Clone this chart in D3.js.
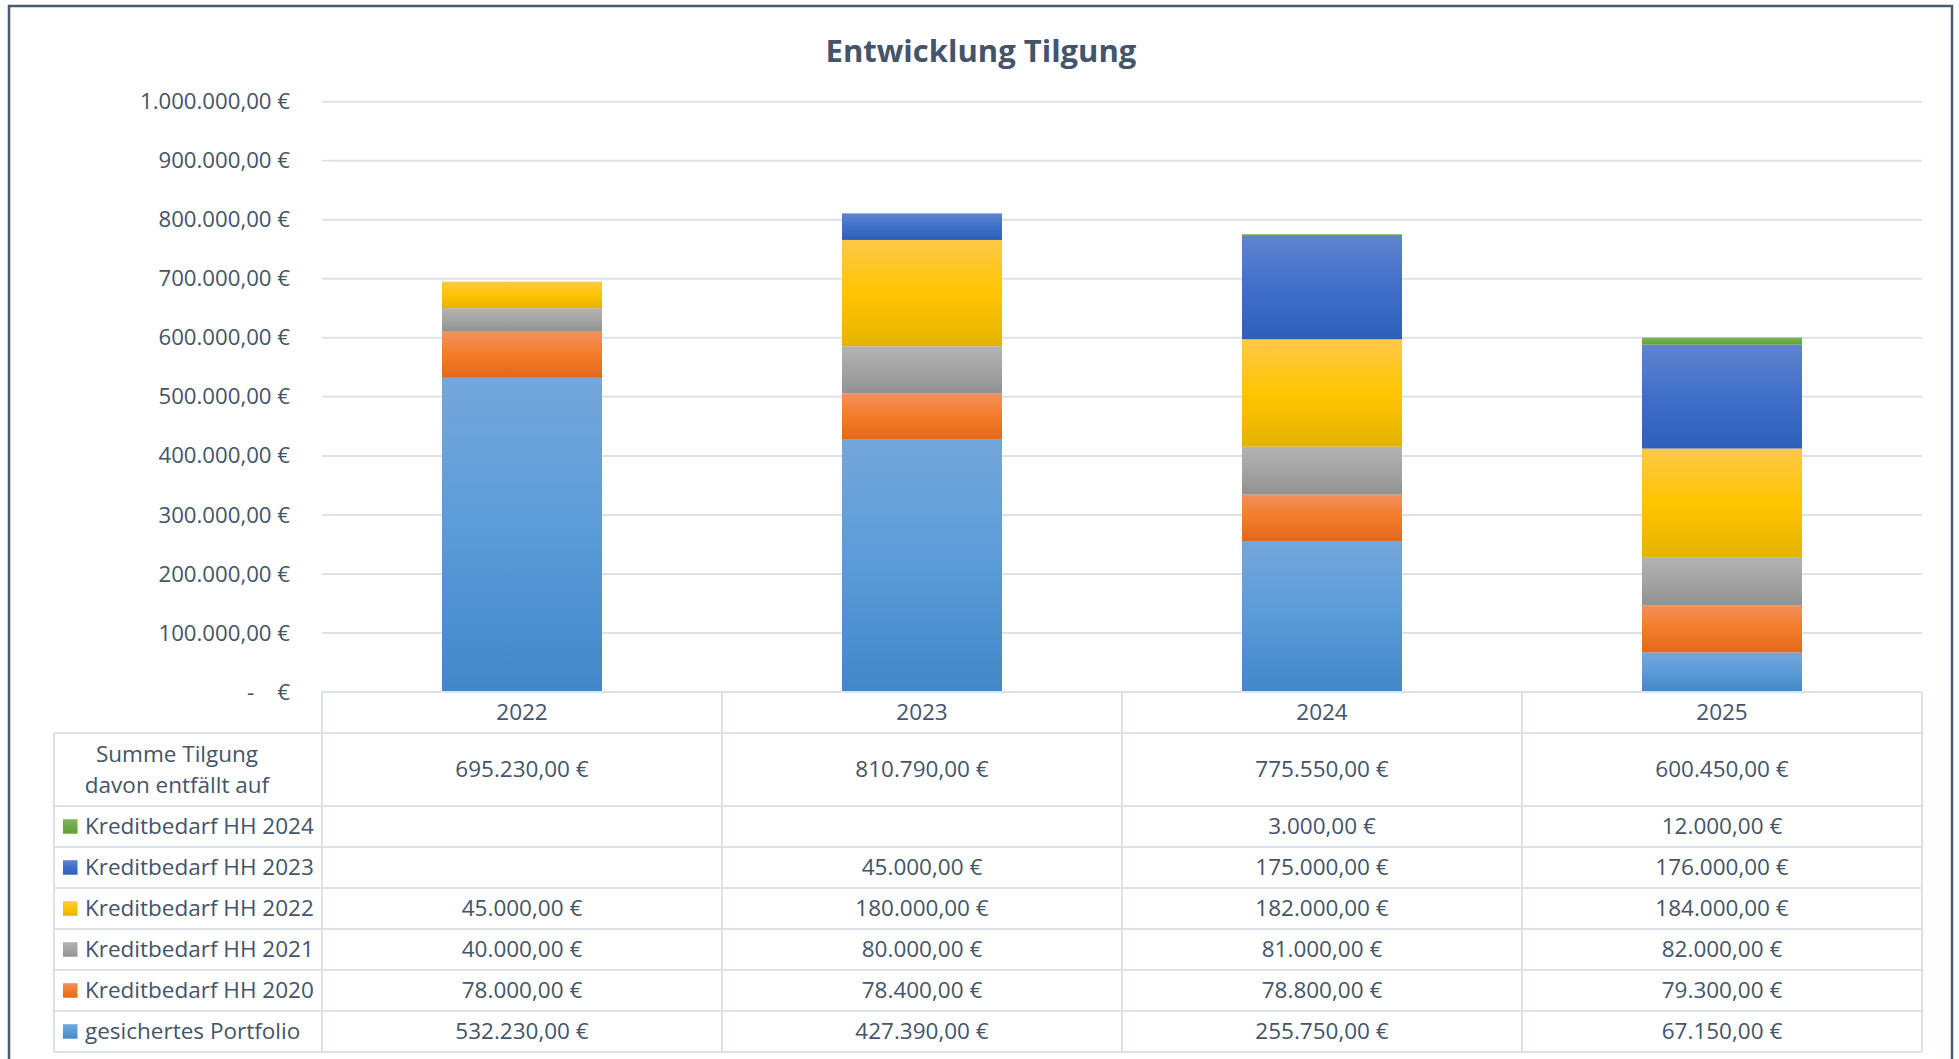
<!DOCTYPE html>
<html>
<head>
<meta charset="utf-8">
<script src="https://cdn.jsdelivr.net/npm/d3@7"></script>
<style>
  html, body { margin: 0; padding: 0; background: #ffffff; }
  svg text { font-family: "Open Sans", "Noto Sans", sans-serif; fill: #44546A; white-space: pre; }
</style>
</head>
<body>
<div id="chart"></div>
<script>
// ---- data ----------------------------------------------------------------
const years = ["2022", "2023", "2024", "2025"];

// stacked bottom -> top
const seriesKeys = ["portfolio", "hh2020", "hh2021", "hh2022", "hh2023", "hh2024"];
const seriesLabels = {
  portfolio: "gesichertes Portfolio",
  hh2020: "Kreditbedarf HH 2020",
  hh2021: "Kreditbedarf HH 2021",
  hh2022: "Kreditbedarf HH 2022",
  hh2023: "Kreditbedarf HH 2023",
  hh2024: "Kreditbedarf HH 2024",
};

const portfolio = [532230, 427390, 255750, 67150];
const hh2020 = [78000, 78400, 78800, 79300];
const hh2021 = [40000, 80000, 81000, 82000];
const hh2022 = [45000, 180000, 182000, 184000];
const hh2023 = [null, 45000, 175000, 176000];
const hh2024 = [null, null, 3000, 12000];

const yTicks = [0, 100000, 200000, 300000, 400000, 500000, 600000, 700000, 800000, 900000, 1000000];

// gradient stops per series: top, middle, bottom
const seriesColors = {
  portfolio: ["#73A7DB", "#5A9BD9", "#4287C7"],
  hh2020: ["#F1905C", "#F47B28", "#E3681A"],
  hh2021: ["#B3B3B3", "#A4A4A4", "#919191"],
  hh2022: ["#FFC848", "#FFC500", "#E4B300"],
  hh2023: ["#6084CE", "#3F6FCA", "#2D60B8"],
  hh2024: ["#7DB85A", "#6DAA45", "#60A036"],
};

const seriesValues = { portfolio, hh2020, hh2021, hh2022, hh2023, hh2024 };
const rows = years.map((year, i) => {
  const r = { year };
  seriesKeys.forEach((k) => (r[k] = seriesValues[k][i] || 0));
  return r;
});

// ---- layout --------------------------------------------------------------
const width = 1959;
const height = 1059;
const plotLeft = 322;
const plotRight = 1922;
const plotTop = 101.7;
const plotBottom = 692;
const tableLeft = 54;
const headerH = 41;
const sumH = 73;
const rowH = 41;
const tableFont = "22.5px";

const deLocale = d3.formatLocale({ decimal: ",", thousands: ".", grouping: [3], currency: ["", " €"] });
const fmtMoney = deLocale.format(",.2f");
const euro = (v) => fmtMoney(v) + " €";
const axisLabel = (v) => (v === 0 ? "-    €" : euro(v));

const svg = d3
  .select("#chart")
  .append("svg")
  .attr("width", width)
  .attr("height", height)
  .attr("xml:space", "preserve");

// gradients
const defs = svg.append("defs");
seriesKeys.forEach((k) => {
  const g = defs.append("linearGradient").attr("id", `grad-${k}`).attr("x1", 0).attr("y1", 0).attr("x2", 0).attr("y2", 1);
  g.append("stop").attr("offset", "0%").attr("stop-color", seriesColors[k][0]);
  g.append("stop").attr("offset", "50%").attr("stop-color", seriesColors[k][1]);
  g.append("stop").attr("offset", "100%").attr("stop-color", seriesColors[k][2]);
});

// frame
svg
  .append("rect")
  .attr("x", 9)
  .attr("y", 6)
  .attr("width", 1943)
  .attr("height", 1200)
  .attr("fill", "#ffffff")
  .attr("stroke", "#4A5A72")
  .attr("stroke-width", 2.5);

// title
svg
  .append("text")
  .attr("x", 981)
  .attr("y", 51)
  .attr("dy", "0.35em")
  .attr("text-anchor", "middle")
  .style("font-size", "31px")
  .style("font-weight", "700")
  .text("Entwicklung Tilgung");

// scales
const x = d3.scaleBand().domain(years).range([plotLeft, plotRight]).padding(0);
const y = d3.scaleLinear().domain([0, 1000000]).range([plotBottom, plotTop]);
const barW = x.bandwidth() * 0.4;

// gridlines
svg
  .append("g")
  .selectAll("line")
  .data(yTicks.filter((t) => t > 0))
  .enter()
  .append("line")
  .attr("x1", plotLeft)
  .attr("x2", plotRight)
  .attr("y1", (d) => y(d))
  .attr("y2", (d) => y(d))
  .attr("stroke", "#DEE2E8")
  .attr("stroke-width", 2);

// y axis labels
const yAxis = svg
  .append("g")
  .attr("transform", `translate(290,0)`)
  .call(d3.axisLeft(y).tickValues(yTicks).tickFormat(axisLabel).tickSize(0).tickPadding(0));
yAxis.select(".domain").remove();
yAxis
  .selectAll("text")
  .attr("fill", "#44546A")
  .style("font-size", "22.2px")
  .style("font-family", '"Open Sans", "Noto Sans", sans-serif');

// bars
const stack = d3.stack().keys(seriesKeys);
const stacked = stack(rows);
svg
  .append("g")
  .selectAll("g")
  .data(stacked)
  .enter()
  .append("g")
  .attr("fill", (d) => `url(#grad-${d.key})`)
  .selectAll("rect")
  .data((d) => d.filter((s) => s[1] - s[0] > 0))
  .enter()
  .append("rect")
  .attr("x", (d) => x(d.data.year) + (x.bandwidth() - barW) / 2)
  .attr("width", barW)
  .attr("y", (d) => y(d[1]))
  .attr("height", (d) => y(d[0]) - y(d[1]));

// ---- data table ----------------------------------------------------------
const tableRows = ["hh2024", "hh2023", "hh2022", "hh2021", "hh2020", "portfolio"];
const yHeaderTop = plotBottom;
const ySumTop = yHeaderTop + headerH;
const yRowsTop = ySumTop + sumH;
const yTableBottom = yRowsTop + rowH * tableRows.length;
const lineColor = "#DEE2E8";

const table = svg.append("g");

// horizontal rules
const hLines = [{ y: yHeaderTop, x1: plotLeft }, { y: ySumTop, x1: tableLeft }];
tableRows.forEach((k, i) => hLines.push({ y: yRowsTop + rowH * i, x1: tableLeft }));
hLines.push({ y: yTableBottom, x1: tableLeft });
table
  .selectAll("line.h")
  .data(hLines)
  .enter()
  .append("line")
  .attr("class", "h")
  .attr("x1", (d) => d.x1)
  .attr("x2", plotRight)
  .attr("y1", (d) => d.y)
  .attr("y2", (d) => d.y)
  .attr("stroke", lineColor)
  .attr("stroke-width", 2);

// vertical rules
const vLines = [{ x: tableLeft, y1: ySumTop }];
years.forEach((yr) => vLines.push({ x: x(yr), y1: yHeaderTop }));
vLines.push({ x: plotRight, y1: yHeaderTop });
table
  .selectAll("line.v")
  .data(vLines)
  .enter()
  .append("line")
  .attr("class", "v")
  .attr("x1", (d) => d.x)
  .attr("x2", (d) => d.x)
  .attr("y1", (d) => d.y1)
  .attr("y2", yTableBottom)
  .attr("stroke", lineColor)
  .attr("stroke-width", 2);

// category header
table
  .selectAll("text.cat")
  .data(years)
  .enter()
  .append("text")
  .attr("class", "cat")
  .attr("x", (d) => x(d) + x.bandwidth() / 2)
  .attr("y", yHeaderTop + headerH / 2)
  .attr("dy", "0.35em")
  .attr("text-anchor", "middle")
  .style("font-size", tableFont)
  .text((d) => d);

// sum row
const sumLabel = table.append("text").attr("text-anchor", "middle").style("font-size", tableFont);
sumLabel.append("tspan").attr("x", 177).attr("y", ySumTop + 29).text("Summe Tilgung");
sumLabel.append("tspan").attr("x", 177).attr("y", ySumTop + 60).text("davon entfällt auf");

table
  .selectAll("text.sum")
  .data(rows)
  .enter()
  .append("text")
  .attr("class", "sum")
  .attr("x", (d) => x(d.year) + x.bandwidth() / 2)
  .attr("y", ySumTop + sumH / 2)
  .attr("dy", "0.35em")
  .attr("text-anchor", "middle")
  .style("font-size", tableFont)
  .text((d) => euro(d3.sum(seriesKeys, (k) => d[k])));

// series rows
const rowG = table
  .selectAll("g.row")
  .data(tableRows)
  .enter()
  .append("g")
  .attr("class", "row")
  .attr("transform", (d, i) => `translate(0,${yRowsTop + rowH * i + rowH / 2})`);

rowG
  .append("rect")
  .attr("x", 63)
  .attr("y", -7.3)
  .attr("width", 14.5)
  .attr("height", 14.5)
  .attr("fill", (d) => `url(#grad-${d})`);

rowG
  .append("text")
  .attr("x", 85)
  .attr("dy", "0.35em")
  .style("font-size", tableFont)
  .text((d) => seriesLabels[d]);

rowG
  .selectAll("text.val")
  .data((k) => rows.map((r) => ({ year: r.year, v: r[k] })))
  .enter()
  .append("text")
  .attr("class", "val")
  .attr("x", (d) => x(d.year) + x.bandwidth() / 2)
  .attr("dy", "0.35em")
  .attr("text-anchor", "middle")
  .style("font-size", tableFont)
  .text((d) => (d.v ? euro(d.v) : ""));
</script>
</body>
</html>
